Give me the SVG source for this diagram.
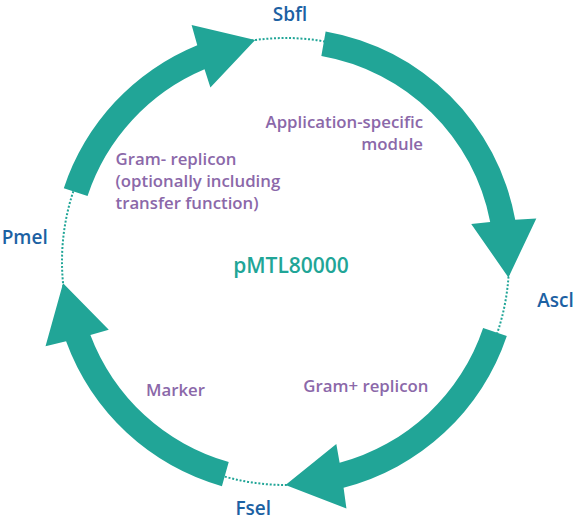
<svg xmlns="http://www.w3.org/2000/svg" width="575" height="519" viewBox="0 0 575 519">
<style>
.seg{fill:#21a597;stroke:none}
.dots{fill:none;stroke:#21a597;stroke-width:2;stroke-dasharray:2 1.8}
.site{font-family:"Open Sans","Noto Sans",sans-serif;font-weight:600;font-size:19px;fill:#1c61a3}
.lbl{font-family:"Open Sans","Noto Sans",sans-serif;font-weight:600;font-size:16.8px;fill:#8b68a9}
.name{font-family:"Open Sans","Noto Sans",sans-serif;font-weight:600;font-size:21px;fill:#21a597}
</style>
<rect width="575" height="519" fill="#ffffff"/>
<g id="connectors">
<circle class="dots" cx="285.5" cy="261.5" r="223.5"/>
</g>
<g id="gram-neg-replicon">
<path class="seg" d="M63.82,188.18 A233.5,233.5 0 0 1 197.28,45.30 L191.61,24.94 L255.17,40.08 L210.40,87.52 L204.54,69.37 A208.5,208.5 0 0 0 87.55,196.03 Z"/>
<text class="lbl" x="115.5" y="165">Gram- replicon</text>
<text class="lbl" x="115.5" y="187.3">(optionally including</text>
<text class="lbl" x="115.5" y="209.3">transfer function)</text>
</g>
<g id="application-module">
<path class="seg" d="M325.64,31.48 A233.5,233.5 0 0 1 515.24,219.75 L536.33,218.39 L508.43,277.48 L471.23,223.88 L490.20,221.89 A208.5,208.5 0 0 0 321.34,56.11 Z"/>
<text class="lbl" x="423" y="128.3" text-anchor="end">Application-specific</text>
<text class="lbl" x="423" y="150" text-anchor="end">module</text>
</g>
<g id="gram-pos-replicon">
<path class="seg" d="M506.81,335.99 A233.5,233.5 0 0 1 343.57,487.67 L346.43,508.59 L285.5,485 L336.31,444.06 L339.63,462.85 A208.5,208.5 0 0 0 483.12,328.01 Z"/>
<text class="lbl" x="303.3" y="391.7">Gram+ replicon</text>
</g>
<g id="marker">
<path class="seg" d="M221.92,486.17 A233.5,233.5 0 0 1 66.08,341.36 L45.53,346.25 L63.07,283.31 L108.77,329.87 L90.39,335.04 A208.5,208.5 0 0 0 228.73,462.12 Z"/>
<text class="lbl" x="146" y="396">Marker</text>
</g>
<g id="site-sbfl"><text class="site" x="290" y="20.5" text-anchor="middle">Sbfl</text></g>
<g id="site-ascl"><text class="site" x="537.3" y="307.3">Ascl</text></g>
<g id="site-fsel"><text class="site" x="253.3" y="514.5" text-anchor="middle">Fsel</text></g>
<g id="site-pmel"><text class="site" x="1.7" y="244">Pmel</text></g>
<g id="plasmid-name"><text class="name" x="291" y="273.3" text-anchor="middle">pMTL80000</text></g>
</svg>
